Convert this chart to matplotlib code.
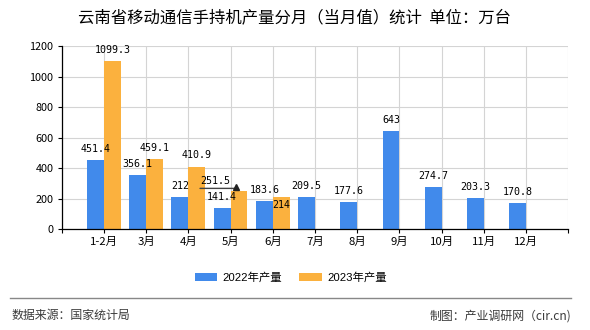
import matplotlib
matplotlib.use("Agg")
import matplotlib.pyplot as plt
import matplotlib.transforms as mtransforms
from matplotlib.patches import Patch
from matplotlib.lines import Line2D

plt.rcParams['font.family'] = ['Noto Sans CJK SC', 'DejaVu Sans']

# ---- data ----
categories = ["1-2月", "3月", "4月", "5月", "6月", "7月", "8月", "9月", "10月", "11月", "12月"]
prod_2022 = [451.4, 356.1, 212, 141.4, 183.6, 209.5, 177.6, 643, 274.7, 203.3, 170.8]
prod_2023 = [1099.3, 459.1, 410.9, 251.5, 214]
series_names = ["2022年产量", "2023年产量"]
title = "云南省移动通信手持机产量分月（当月值）统计  单位：万台"
source_text = "数据来源：国家统计局"
credit_text = "制图：产业调研网（cir.cn)"
y_ticks = [0, 200, 400, 600, 800, 1000, 1200]

# ---- style ----
c2022 = "#418AEB"
c2023 = "#FBB13E"
grid_c = "#D4D4D4"
bar_w = 0.4
# label adjustments (pixels): (series, index) -> (dx, dy of label center relative to bar top)
label_adjust = {(1, 3): (-23.5, 10.2), (1, 4): (0, -7.4)}
default_dy = 11.7

fig = plt.figure(figsize=(5.9, 3.3), dpi=100)
ax = fig.add_axes([61.7/590, 1-229.3/330, (568.3-61.7)/590, (229.3-46)/330])

n = len(categories)
x22 = list(range(len(prod_2022)))
x23 = list(range(len(prod_2023)))
ax.bar([i - bar_w/2 for i in x22], prod_2022, width=bar_w, color=c2022, zorder=3)
ax.bar([i + bar_w/2 for i in x23], prod_2023, width=bar_w, color=c2023, zorder=3)

ax.set_xlim(-1, n)
ax.set_ylim(0, 1200)
ax.set_yticks(y_ticks)
ax.set_yticklabels([str(v) for v in y_ticks], fontsize=7.8)
ax.set_xticks(range(-1, n + 1))
ax.set_xticklabels([""] + categories + [""], fontsize=8.2)
ax.tick_params(axis='both', length=3, width=0.8, color='black', pad=3)
ax.tick_params(axis='x', pad=2.5)

for s in ['top', 'right']:
    ax.spines[s].set_visible(False)
for s in ['left', 'bottom']:
    ax.spines[s].set_color('black')
    ax.spines[s].set_linewidth(0.9)
ax.set_axisbelow(True)
ax.grid(True, color=grid_c, linewidth=0.8, zorder=0)
ax.spines['left'].set_zorder(4)
ax.spines['bottom'].set_zorder(4)

px = 72 / fig.dpi  # points per pixel
label_font = dict(family='DejaVu Sans Mono', fontsize=7.2, color='black')

def fmt(v):
    return ("%g" % v)

for si, (xs, vals, off) in enumerate([(x22, prod_2022, -bar_w/2), (x23, prod_2023, bar_w/2)]):
    for i, v in zip(xs, vals):
        dx, dy = label_adjust.get((si, i), (0, default_dy))
        ax.annotate(fmt(v), xy=(i + off, v), xytext=(dx*px, (dy - 3.5)*px),
                    textcoords='offset points', ha='center', va='baseline',
                    zorder=6, **label_font)
        if (si, i) == (1, 3):
            tr = mtransforms.offset_copy(ax.transData, fig=fig, x=-4.0, y=2.5, units='dots')
            ax.annotate('', xy=(i + off, v), xycoords=tr,
                        xytext=(-35*px, 0), textcoords='offset points',
                        arrowprops=dict(arrowstyle='-', color='#444444', lw=1.0,
                                        shrinkA=0, shrinkB=0),
                        zorder=6)
            ax.plot([i + off], [v], marker='^', markersize=5, color='#222222',
                    transform=mtransforms.offset_copy(ax.transData, fig=fig, x=-3.0, y=4.0, units='dots'),
                    zorder=7, clip_on=False)

# title
fig.text(0.5, 1 - 17.5/330, title, ha='center', va='center', fontsize=11.8, color='black')

# legend
handles = [Patch(facecolor=c2022, edgecolor='none'), Patch(facecolor=c2023, edgecolor='none')]
fig.legend(handles, series_names, loc='center', bbox_to_anchor=(290.7/590, 1 - 277.5/330),
           ncol=2, frameon=False, handlelength=2.0, handleheight=0.8, handletextpad=0.45,
           columnspacing=1.5, borderpad=0, borderaxespad=0,
           prop=dict(family=['Liberation Sans', 'Noto Sans CJK SC'], size=8.2))

# footer separator & texts
fig.add_artist(Line2D([10/590, 571/590], [1 - 297.5/330, 1 - 297.5/330],
                      transform=fig.transFigure, color='#888888', lw=1.0))
fig.text(11.5/590, 1 - 315.7/330, source_text, ha='left', va='center', fontsize=8.6, color='#3a3a3a')
fig.text(571/590, 1 - 315.7/330, credit_text, ha='right', va='center', fontsize=8.6, color='#3a3a3a')

fig.savefig("out.png", dpi=100)
